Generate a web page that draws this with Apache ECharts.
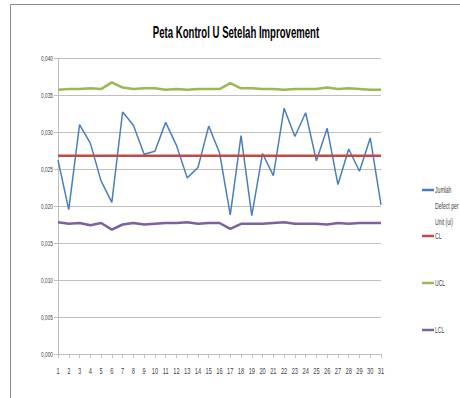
<!DOCTYPE html>
<html>
<head>
<meta charset="utf-8">
<script src="https://cdn.jsdelivr.net/npm/echarts@6/dist/echarts.min.js"></script>
<style>
html,body{margin:0;padding:0;background:#fff;}
#c{width:460px;height:398px;}
</style>
</head>
<body>
<div id="c"></div>
<script>
const categories = ['1','2','3','4','5','6','7','8','9','10','11','12','13','14','15','16','17','18','19','20','21','22','23','24','25','26','27','28','29','30','31'];
const defectPerUnit = [0.0262,0.0195,0.0310,0.0285,0.0234,0.0205,0.0327,0.0309,0.0270,0.0274,0.0313,0.0282,0.0238,0.0252,0.0308,0.0272,0.0188,0.0295,0.0187,0.0271,0.0241,0.0332,0.0294,0.0326,0.0261,0.0305,0.0229,0.0277,0.0247,0.0292,0.0202];
const clValues = [0.0268,0.0268,0.0268,0.0268,0.0268,0.0268,0.0268,0.0268,0.0268,0.0268,0.0268,0.0268,0.0268,0.0268,0.0268,0.0268,0.0268,0.0268,0.0268,0.0268,0.0268,0.0268,0.0268,0.0268,0.0268,0.0268,0.0268,0.0268,0.0268,0.0268,0.0268];
const uclValues = [0.0357,0.0358,0.0358,0.0359,0.0358,0.0367,0.0360,0.0358,0.0359,0.0359,0.0357,0.0358,0.0357,0.0358,0.0358,0.0358,0.0366,0.0359,0.0359,0.0358,0.0358,0.0357,0.0358,0.0358,0.0358,0.0360,0.0358,0.0359,0.0358,0.0357,0.0357];
const lclValues = [0.0178,0.0176,0.0177,0.0174,0.0177,0.0168,0.0175,0.0177,0.0175,0.0176,0.0177,0.0177,0.0178,0.0176,0.0177,0.0177,0.0169,0.0176,0.0176,0.0176,0.0177,0.0178,0.0176,0.0176,0.0176,0.0175,0.0177,0.0176,0.0177,0.0177,0.0177];
const seriesNames = ['Jumlah Defect per Unit (ui)','CL','UCL','LCL'];
const legendLabels = ['\n\nJumlah\nDefect per\nUnit (ui)','CL','UCL','LCL'];
const yTickLabels = ['0,000','0,005','0,010','0,015','0,020','0,025','0,030','0,035','0,040'];

const FONT = '"Liberation Sans",Arial,sans-serif';
const TEXT_SQUEEZE = 0.6;
const colors = ['#4a7ebb','#be4b48','#98b954','#7d60a0'];
const legendTops = [150, 228, 275, 322];

const chart = echarts.init(document.getElementById('c'), null, {renderer:'svg'});
const mk = (name, data, color, width) => ({
  name, type:'line', data, symbol:'none', smooth:false,
  lineStyle:{color, width}, itemStyle:{color}
});
chart.setOption({
  animation:false,
  backgroundColor:'#ffffff',
  graphic:[{type:'rect', shape:{x:10.5,y:4.5,width:600,height:600}, style:{fill:'none', stroke:'#8c8c8c', lineWidth:1}, z:-1}],
  title:{text:'Peta Kontrol U Setelah Improvement', left:231, top:20, textAlign:'center',
    textStyle:{fontFamily:FONT, fontSize:16, fontWeight:'bold', color:'#000'}},
  legend: seriesNames.map((n,i)=>({
    data:[n], left:422, top:legendTops[i], orient:'vertical', icon:'rect',
    itemWidth:12, itemHeight:2.5, itemGap:0, padding:0,
    formatter:()=>legendLabels[i],
    textStyle:{fontFamily:FONT, fontSize:8.5, color:'#404040', lineHeight:16, padding:[0,0,0,-4]}
  })),
  grid:{left:58, right:79, top:58, bottom:44, containLabel:false},
  xAxis:{type:'category', data:categories, boundaryGap:false,
    axisLine:{lineStyle:{color:'#bfbfbf'}},
    axisTick:{show:true, interval:0, length:4, lineStyle:{color:'#bfbfbf'}},
    axisLabel:{interval:0, fontFamily:FONT, fontSize:9.5, color:'#404040', margin:12},
    splitLine:{show:false}},
  yAxis:{type:'value', min:0, max:0.04, interval:0.005,
    axisLine:{show:true, lineStyle:{color:'#bfbfbf'}},
    axisTick:{show:true, length:4, lineStyle:{color:'#bfbfbf'}},
    axisLabel:{fontFamily:FONT, fontSize:8, color:'#404040', margin:5,
      formatter:(v)=>yTickLabels[Math.round(v/0.005)]},
    splitLine:{lineStyle:{color:'#bfbfbf', width:1}}},
  series:[
    mk(seriesNames[0], defectPerUnit, colors[0], 1.5),
    mk(seriesNames[1], clValues, colors[1], 2.5),
    mk(seriesNames[2], uclValues, colors[2], 2.5),
    mk(seriesNames[3], lclValues, colors[3], 2.5)
  ]
});

// Narrow the glyphs horizontally (the reference uses a condensed face), keeping each anchor point.
function squeezeText(){
  document.querySelectorAll('#c svg text').forEach(t=>{
    if (t.getAttribute('data-sq') === '1') return;
    const x = parseFloat(t.getAttribute('x') || '0');
    const y = parseFloat(t.getAttribute('y') || '0');
    const tr = t.getAttribute('transform') || '';
    t.setAttribute('x','0'); t.setAttribute('y','0');
    t.setAttribute('transform', (tr+' translate('+x+' '+y+') scale('+TEXT_SQUEEZE+' 1)').trim());
    t.setAttribute('data-sq','1');
  });
}
squeezeText();
chart.on('finished', squeezeText);
setTimeout(squeezeText, 0);
</script>
</body>
</html>
